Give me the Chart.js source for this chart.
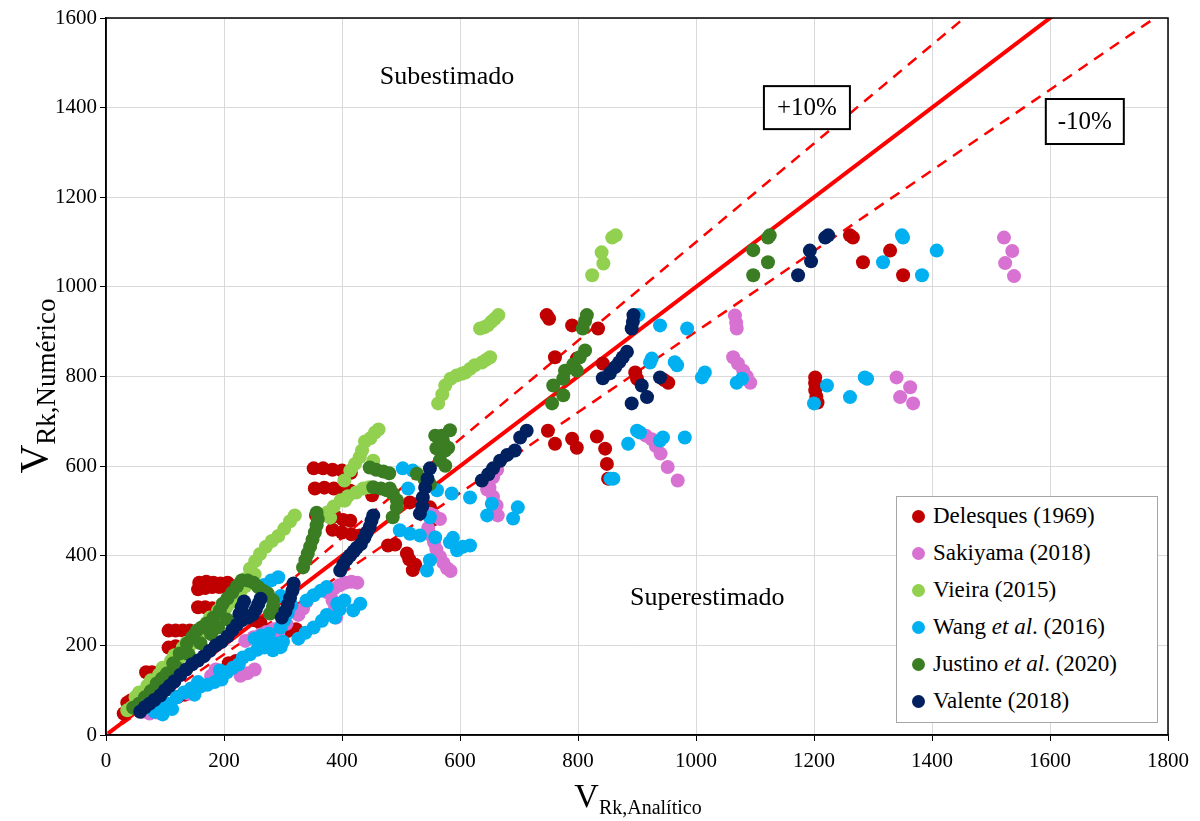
<!DOCTYPE html>
<html>
<head>
<meta charset="utf-8">
<script src="https://cdn.jsdelivr.net/npm/chart.js@4.4.1/dist/chart.umd.min.js"></script>
<style>
  body { margin: 0; background: #fff; }
  #wrap { position: relative; width: 1200px; height: 821px; }
  #legend {
    position: absolute; left: 896px; top: 496px; width: 262px; height: 227px;
    box-sizing: border-box; border: 1.5px solid #a6a6a6; background: #fff;
    font-family: "Liberation Serif", "Times New Roman", serif; font-size: 23px; color: #000;
  }
  #legend .row { position: relative; height: 37px; line-height: 37px; padding-left: 36px; white-space: nowrap; }
  #legend .dot { position: absolute; left: 15px; top: 13px; width: 13px; height: 13px; border-radius: 50%; }
</style>
</head>
<body>
<div id="wrap">
  <canvas id="chart" width="1200" height="821"></canvas>
  <div id="legend"></div>
</div>
<script>
/* ── 数据 ── */
const xTicks = [0, 200, 400, 600, 800, 1000, 1200, 1400, 1600, 1800];
const yTicks = [0, 200, 400, 600, 800, 1000, 1200, 1400, 1600];

const seriesLabels = [
  'Delesques (1969)', 'Sakiyama (2018)', 'Vieira (2015)',
  'Wang <i>et al</i>. (2016)', 'Justino <i>et al</i>. (2020)', 'Valente (2018)'
];
const seriesColors = ['#C00000', '#D872D2', '#92D050', '#00B0F0', '#3A7D22', '#002060'];

// [V analítico, V numérico]
const delesques = [
  [30,48],[36,72],[42,77],[52,77],[68,140],[78,140],[88,138],[122,85],[134,90],
  [106,195],[118,198],[106,233],[118,233],[130,233],[142,233],[154,230],
  [156,285],[168,285],[180,283],[156,325],[168,328],[180,330],[192,330],[204,330],[216,332],
  [158,340],[170,342],[182,340],[194,338],[206,340],[208,160],[220,165],
  [240,262],[252,256],[262,250],[308,232],[322,236],
  [352,595],[368,595],[384,592],[400,590],[415,585],
  [354,550],[370,552],[386,550],[400,548],[414,545],
  [356,490],[372,492],[388,488],[402,480],[414,478],
  [384,458],[400,452],[416,448],[430,445],
  [478,423],[490,425],[510,405],[514,392],[520,368],[524,380],
  [451,535],[549,508],[552,479],[515,519],
  [747,937],[751,929],[790,914],[834,907],[761,843],[798,840],[842,829],
  [897,809],[900,795],[946,792],[953,786],
  [749,679],[761,650],[790,661],[798,641],[832,666],[846,639],[849,605],[851,572],
  [1261,1115],[1266,1110],[1329,1081],[1283,1055],[1351,1026],
  [1202,798],[1202,785],[1202,770],[1204,755],[1206,742]
];
const sakiyama = [
  [62,52],[74,48],[86,50],[140,92],[150,100],[158,108],[178,132],[186,146],
  [228,132],[240,138],[252,146],[236,210],[250,218],[262,224],
  [272,230],[284,236],[296,242],[306,248],[292,222],[326,268],[334,282],[340,298],
  [376,318],[386,326],[396,334],[406,340],[416,342],[426,340],[384,300],[388,282],[390,262],
  [549,494],[556,490],[566,482],[546,462],[550,446],[556,430],[560,414],[566,398],[572,384],[578,372],[584,366],
  [663,592],[656,575],[650,552],[646,548],[656,532],[662,512],[664,490],
  [915,668],[925,660],[932,645],[940,628],[952,598],[969,568],
  [1066,936],[1068,920],[1069,907],[1063,843],[1071,829],[1080,813],[1086,800],[1092,786],
  [1340,798],[1363,776],[1346,754],[1368,740],
  [1522,1110],[1536,1080],[1524,1053],[1539,1024]
];
const vieira = [
  [36,55],[44,62],[52,72],[60,82],[68,95],[76,105],[84,118],[92,128],[100,140],[108,150],
  [116,162],[124,172],[132,184],[140,195],[148,206],[156,218],[164,230],[172,240],[180,252],
  [188,262],[196,274],[204,285],[212,296],[220,308],[228,320],[236,332],[244,345],[252,358],
  [50,85],[70,110],[90,135],[110,165],[130,195],[150,222],[170,250],[190,278],[210,305],[230,335],
  [56,95],[76,122],[96,150],[116,178],[136,206],[156,234],[176,262],[196,290],[216,318],[236,348],
  [244,371],[253,388],[261,404],[271,420],[281,433],[292,444],[302,460],[312,477],[320,490],
  [380,485],[376,497],[386,510],[398,524],[405,523],[410,533],[424,541],[436,550],[446,553],
  [404,568],[414,590],[422,605],[430,620],[434,635],[439,655],[448,662],[456,675],[462,682],[453,612],
  [563,740],[570,760],[575,780],[584,795],[594,802],[603,806],[609,809],[617,817],[625,825],
  [637,831],[644,837],[651,843],[634,907],[641,910],[647,914],[653,922],[659,929],[665,937],
  [824,1026],[843,1052],[840,1077],[858,1110],[864,1115]
];
const wang = [
  [82,52],[92,60],[104,70],[112,58],[96,46],[120,84],[132,95],[144,104],[156,118],[150,90],
  [160,108],[172,112],[184,118],[196,124],[193,144],[205,140],[215,150],[225,158],
  [232,173],[244,180],[256,190],[268,195],[283,189],[296,196],[252,215],[264,222],[276,226],
  [273,208],[286,204],[300,208],[296,240],[302,256],[308,272],[314,290],
  [326,215],[338,228],[352,240],[366,255],[374,268],[340,300],[352,312],[364,322],[374,330],
  [268,335],[280,345],[292,352],[284,300],[296,310],[388,262],[396,280],[404,300],
  [392,293],[419,278],[431,293],
  [503,595],[520,590],[512,550],[561,546],[586,539],[617,530],[654,516],[646,490],[698,508],[690,483],
  [498,457],[515,449],[532,445],[549,486],[558,441],[583,430],[595,412],[617,423],[549,390],[544,367],
  [588,440],[605,420],
  [902,937],[939,914],[985,907],[922,831],[925,840],[968,825],[964,832],[1015,809],[1010,798],
  [1069,786],[1078,795],[885,650],[900,679],[905,675],[939,657],[944,664],[981,664],[855,572],[860,572],
  [1349,1115],[1351,1110],[1408,1081],[1317,1055],[1383,1026],
  [1286,798],[1290,795],[1222,780],[1261,754],[1200,740]
];
const justino = [
  [46,61],[56,70],[66,84],[76,98],[86,115],[95,126],[103,137],[114,160],[125,182],[137,204],
  [146,218],[154,233],[162,240],[171,249],[182,262],[193,278],[198,293],[206,305],[214,318],
  [222,332],[230,345],[240,345],[250,340],[258,330],[266,322],[274,316],[283,300],[283,285],[278,271],
  [120,150],[140,180],[160,205],[178,225],[190,240],[205,258],
  [334,374],[338,390],[342,405],[346,420],[350,436],[354,452],[357,468],[359,482],[357,496],
  [447,597],[458,592],[470,588],[480,584],[453,553],[466,550],[481,550],[476,546],[486,539],
  [493,524],[493,508],[486,486],
  [527,583],[540,570],[549,560],[558,668],[569,668],[580,641],[583,680],[571,657],[575,635],
  [566,613],[575,601],[560,640],
  [756,740],[758,780],[775,795],[778,813],[792,827],[803,843],[812,858],[808,907],[812,924],
  [815,937],[798,813],[775,758],
  [1097,1082],[1122,1110],[1125,1115],[1097,1026],[1122,1055]
];
const valente = [
  [58,52],[66,62],[74,70],[82,78],[92,88],[100,100],[108,110],[116,120],[126,134],[136,146],
  [146,158],[156,166],[166,176],[176,188],[186,200],[196,208],[206,220],[214,234],[222,246],
  [230,256],[226,270],[230,285],[234,298],[240,262],[248,268],[254,280],[258,292],[262,304],
  [298,262],[304,276],[308,290],[312,306],[316,322],[318,338],
  [397,367],[402,380],[408,392],[414,401],[420,410],[425,418],[432,426],[438,440],[442,452],
  [447,464],[450,478],[453,490],
  [532,494],[536,510],[537,530],[541,552],[545,572],[549,595],
  [637,568],[648,582],[656,595],[668,612],[680,625],[693,635],[702,664],[713,679],
  [842,796],[854,807],[863,821],[870,832],[876,843],[883,855],[891,907],[893,922],[894,937],
  [908,780],[917,754],[891,740],[939,798],
  [1173,1026],[1195,1057],[1193,1081],[1219,1110],[1224,1115]
];
const seriesData = [delesques, sakiyama, vieira, wang, justino, valente];

// 参考线斜率: 1:1, +10%, -10%
const refSlopes = [1, 1.1, 0.9];

/* ── 标注 ── */
const FONT = '"Liberation Serif", "Times New Roman", serif';
const regionNotes = [
  { text: 'Subestimado', x: 578, y: 1467 },
  { text: 'Superestimado', x: 1019, y: 305 },
];
const boxNotes = [
  { text: '+10%', x: 1188, y: 1400, w: 86, h: 43 },
  { text: '-10%', x: 1659, y: 1369, w: 78, h: 45 },
];

function drawSubTitle(ctx, main, sub, cx, baseY, mainSize, subSize, drop) {
  ctx.font = mainSize + 'px ' + FONT;
  const w1 = ctx.measureText(main).width;
  ctx.font = subSize + 'px ' + FONT;
  const w2 = ctx.measureText(sub).width;
  const x0 = cx - (w1 + w2) / 2;
  ctx.textAlign = 'left';
  ctx.textBaseline = 'alphabetic';
  ctx.font = mainSize + 'px ' + FONT;
  ctx.fillText(main, x0, baseY);
  ctx.font = subSize + 'px ' + FONT;
  ctx.fillText(sub, x0 + w1, baseY + drop);
}

const overlay = {
  id: 'overlay',
  afterDraw(chart) {
    const { ctx, chartArea: a, scales: { x, y } } = chart;
    ctx.save();
    ctx.strokeStyle = '#000';
    ctx.lineWidth = 1.5;
    ctx.strokeRect(a.left, a.top, a.right - a.left, a.bottom - a.top);

    ctx.fillStyle = '#000';
    ctx.font = '26px ' + FONT;
    ctx.textAlign = 'center';
    ctx.textBaseline = 'middle';
    regionNotes.forEach(n => ctx.fillText(n.text, x.getPixelForValue(n.x), y.getPixelForValue(n.y)));

    boxNotes.forEach(b => {
      const px = x.getPixelForValue(b.x), py = y.getPixelForValue(b.y);
      ctx.fillStyle = '#fff';
      ctx.fillRect(px - b.w / 2, py - b.h / 2, b.w, b.h);
      ctx.lineWidth = 2;
      ctx.strokeStyle = '#000';
      ctx.strokeRect(px - b.w / 2, py - b.h / 2, b.w, b.h);
      ctx.fillStyle = '#000';
      ctx.font = '25px ' + FONT;
      ctx.textAlign = 'center';
      ctx.textBaseline = 'middle';
      ctx.fillText(b.text, px, py + 1);
    });

    // 轴标题 (带下标)
    ctx.fillStyle = '#000';
    drawSubTitle(ctx, 'V', 'Rk,Analítico', 638, 807, 34, 20, 7);
    ctx.translate(47, 386);
    ctx.rotate(-Math.PI / 2);
    drawSubTitle(ctx, 'V', 'Rk,Numérico', 0, 0, 40, 27, 8);
    ctx.restore();
  }
};

/* ── 数据集 ── */
const datasets = [];
refSlopes.forEach((s, i) => {
  datasets.push({
    type: 'scatter',
    showLine: true,
    data: [{ x: 0, y: 0 }, { x: xTicks[xTicks.length - 1], y: xTicks[xTicks.length - 1] * s }],
    borderColor: '#FF0000',
    borderWidth: i === 0 ? 4 : 2.5,
    borderDash: i === 0 ? [] : [11, 8],
    pointRadius: 0,
    order: 20,
  });
});
seriesData.forEach((pts, i) => {
  datasets.push({
    label: seriesLabels[i].replace(/<\/?i>/g, ''),
    data: pts.map(([x, y]) => ({ x, y })),
    backgroundColor: seriesColors[i],
    borderWidth: 0,
    pointRadius: 7,
    order: 10 - i,
  });
});
// 原点处的空心三角
datasets.push({
  data: [{ x: 0, y: 0 }],
  pointStyle: 'triangle',
  pointRadius: 4,
  borderColor: '#8c8cd0',
  borderWidth: 1.2,
  backgroundColor: 'rgba(0,0,0,0)',
  order: 0,
});

const gridColor = '#d9d9d9';
const tickFont = { family: FONT, size: 21 };
new Chart(document.getElementById('chart').getContext('2d'), {
  type: 'scatter',
  data: { datasets },
  options: {
    responsive: false,
    animation: false,
    layout: { padding: { top: 18, right: 32, left: 0, bottom: 0 } },
    plugins: { legend: { display: false }, tooltip: { enabled: false } },
    scales: {
      x: {
        type: 'linear', min: xTicks[0], max: xTicks[xTicks.length - 1],
        afterFit: s => { s.height = 86; },
        afterBuildTicks: s => { s.ticks = xTicks.map(v => ({ value: v })); },
        ticks: { color: '#000', font: tickFont, padding: 8, maxRotation: 0, callback: v => String(v) },
        grid: { color: gridColor, lineWidth: 1, tickLength: 6, tickColor: '#000' },
        border: { color: '#000', width: 1.5 },
      },
      y: {
        type: 'linear', min: yTicks[0], max: yTicks[yTicks.length - 1],
        afterFit: s => { s.width = 106; },
        afterBuildTicks: s => { s.ticks = yTicks.map(v => ({ value: v })); },
        ticks: { color: '#000', font: tickFont, padding: 3, callback: v => String(v) },
        grid: { color: gridColor, lineWidth: 1, tickLength: 6, tickColor: '#000' },
        border: { color: '#000', width: 1.5 },
      },
    },
  },
  plugins: [overlay],
});

/* ── 图例 ── */
const legendEl = document.getElementById('legend');
seriesLabels.forEach((label, i) => {
  const row = document.createElement('div');
  row.className = 'row';
  row.innerHTML = `<span class="dot" style="background:${seriesColors[i]}"></span>${label}`;
  legendEl.appendChild(row);
});
</script>
</body>
</html>
